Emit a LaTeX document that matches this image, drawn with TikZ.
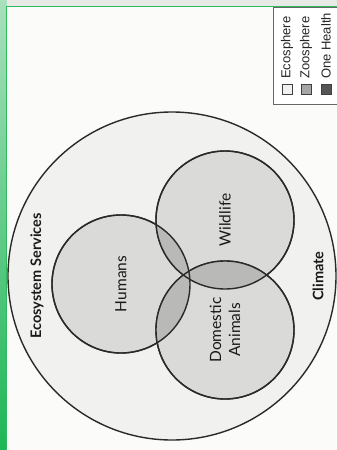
\documentclass[tikz,border=0pt]{standalone}
\usepackage{fontspec}
\setmainfont{Lato}
\newfontfamily\legendfont{Liberation Sans}
\definecolor{pagebg}{HTML}{FBFBF9}
\definecolor{topstrip}{HTML}{E7EAE5}
\definecolor{greenA}{HTML}{A9E0BD}
\definecolor{greenB}{HTML}{1DB656}
\definecolor{greenline}{HTML}{2DBB5E}
\definecolor{ecofill}{HTML}{F1F1F0}
\definecolor{zoofill}{HTML}{DADAD9}
\definecolor{onefill}{HTML}{B9B9B8}
\definecolor{linegray}{HTML}{2A2A2A}
\definecolor{legzoo}{HTML}{A6A6A6}
\definecolor{legone}{HTML}{555555}
\tikzset{
  ring/.style={draw=linegray, line width=1.4pt},
  lab/.style={rotate=90, font=\fontsize{15.5}{17}\selectfont, text=black!90, align=center},
  blab/.style={lab, font=\bfseries\fontsize{14.5}{17}\selectfont},
  legtxt/.style={rotate=90, anchor=west, font=\legendfont\fontsize{13}{15}\selectfont, text=black!85, inner sep=0pt},
  legsq/.style={draw=black!75, line width=0.9pt, minimum size=10pt, inner sep=0pt},
}
\begin{document}
\begin{tikzpicture}[x=1pt,y=-1pt]
\useasboundingbox (0,0) rectangle (337,450);
\fill[pagebg] (0,0) rectangle (337,450);
\fill[topstrip] (0,0) rectangle (337,5.5);
\shade[top color=greenA, bottom color=greenB] (0,0) rectangle (6.5,450);
\draw[greenline, line width=1pt] (6.5,450) -- (6.5,6) -- (337,6);
% circles
\node[ring, circle, fill=ecofill, minimum size=328pt, inner sep=0pt] (eco) at (172,276) {};
\node[ring, circle, fill=zoofill, minimum size=138pt, inner sep=0pt] (hum) at (121,284) {};
\node[ring, circle, fill=zoofill, minimum size=138pt, inner sep=0pt] (wild) at (225,220) {};
\node[ring, circle, fill=zoofill, minimum size=138pt, inner sep=0pt] (dom) at (225,330) {};
\begin{scope}
  \clip (121,284) circle (69pt);
  \fill[onefill] (225,220) circle (69pt);
  \fill[onefill] (225,330) circle (69pt);
\end{scope}
\begin{scope}
  \clip (225,220) circle (69pt);
  \fill[onefill] (225,330) circle (69pt);
\end{scope}
\draw[ring] (121,284) circle (69pt);
\draw[ring] (225,220) circle (69pt);
\draw[ring] (225,330) circle (69pt);
% labels
\node[blab] (es) at (37,276) {Ecosystem Services};
\node[blab] (cl) at (318,276) {Climate};
\node[lab] (hl) at (121,284) {Humans};
\node[lab] (wl) at (225,220) {Wildlife};
\node[lab, font=\fontsize{15.5}{19}\selectfont] (dl) at (225,330) {Domestic\\Animals};
% legend
\node[draw=black!60, line width=0.8pt, fill=white, minimum width=70pt, minimum height=97pt, inner sep=0pt, anchor=north west] (leg) at (273,6.5) {};
\node[legsq, fill=ecofill] (s1) at (287,89) {};
\node[legsq, fill=legzoo] (s2) at (306,89) {};
\node[legsq, fill=legone] (s3) at (326,89) {};
\node[legtxt] (t1) at (287,79) {Ecosphere};
\node[legtxt] (t2) at (306,79) {Zoosphere};
\node[legtxt] (t3) at (326,79) {One Health};
\end{tikzpicture}
\end{document}
